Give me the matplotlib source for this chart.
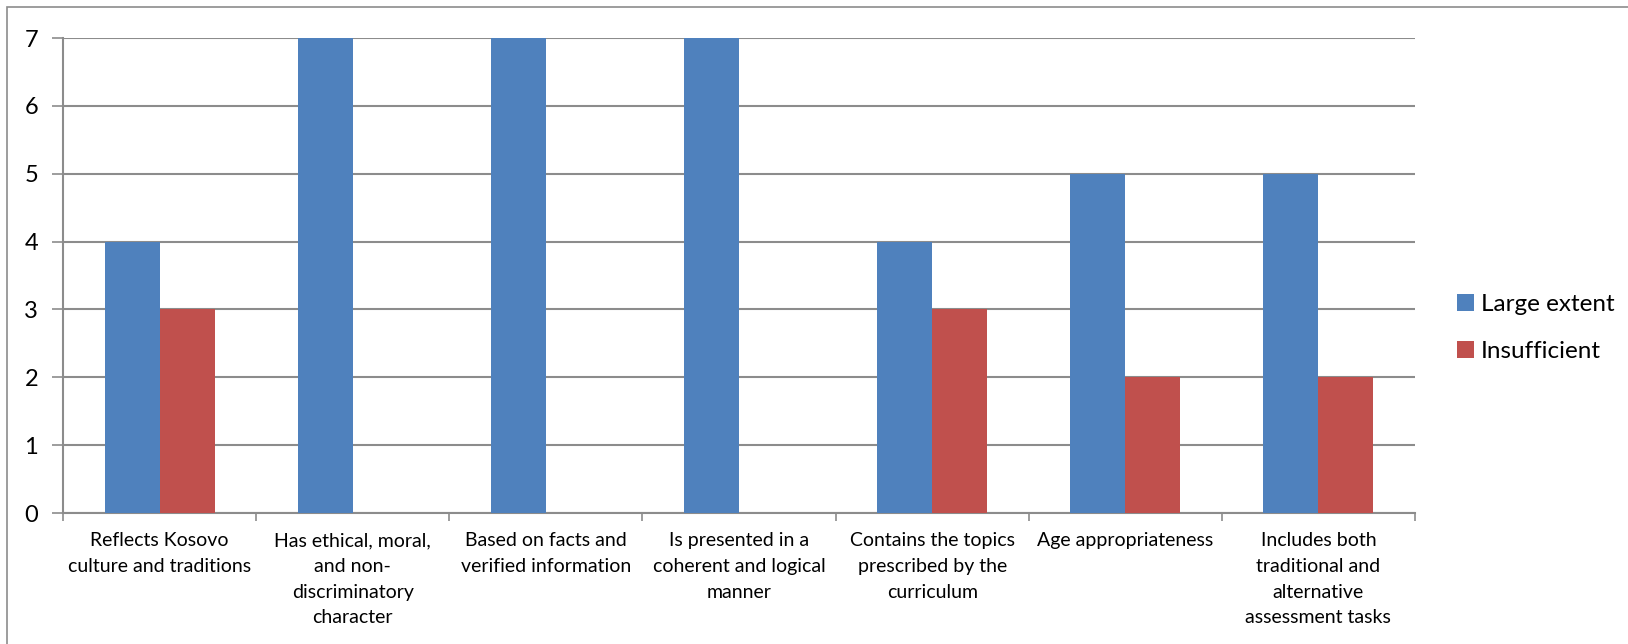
import numpy as np
import matplotlib.pyplot as plt
from matplotlib.patches import Rectangle

# Data
categories = [
    "Reflects Kosovo\nculture and traditions",
    "Has ethical, moral,\nand non-\ndiscriminatory\ncharacter",
    "Based on facts and\nverified information",
    "Is presented in a\ncoherent and logical\nmanner",
    "Contains the topics\nprescribed by the\ncurriculum",
    "Age appropriateness",
    "Includes both\ntraditional and\nalternative\nassessment tasks",
]
large_extent = [4, 7, 7, 7, 4, 5, 5]
insufficient = [3, 0, 0, 0, 3, 2, 2]
y_ticks = [0, 1, 2, 3, 4, 5, 6, 7]

plt.rcParams['font.family'] = ['Lato', 'DejaVu Sans']

fig = plt.figure(figsize=(16.28, 6.44), dpi=100)
ax = fig.add_axes([63 / 1628, 1 - 513 / 644, (1415 - 63) / 1628, (513 - 38) / 644])

# outer chart border (Excel-style frame)
fig.patches.append(Rectangle((7 / 1628, -0.1), 1.2, 1 - 7 / 644 + 0.1,
                             transform=fig.transFigure, fill=False,
                             edgecolor='#8c8c8c', linewidth=1.2))

x = np.arange(len(categories))
w = 0.285
ax.bar(x - w / 2, large_extent, w, color='#4F81BD', label='Large extent', zorder=3)
ax.bar(x + w / 2, insufficient, w, color='#C0504D', label='Insufficient', zorder=3)

ax.set_xlim(-0.5, len(categories) - 0.5)
ax.set_ylim(0, 7)
ax.set_yticks(y_ticks)
ax.tick_params(axis='y', labelsize=17, length=8, width=1.2, color='#8c8c8c', pad=10)
ax.yaxis.grid(True, color='#8c8c8c', linewidth=1.5, zorder=0)
ax.set_axisbelow(True)

# category labels centred, tick marks on boundaries
ax.set_xticks(x)
ax.set_xticklabels(categories, fontsize=14, linespacing=1.62, va='top')
ax.tick_params(axis='x', length=0, pad=14)
ax.set_xticks(np.arange(len(categories) + 1) - 0.5, minor=True)
ax.tick_params(axis='x', which='minor', length=6, width=1.2, color='#8c8c8c')

for s in ['top', 'right']:
    ax.spines[s].set_visible(False)
for s in ['left', 'bottom']:
    ax.spines[s].set_color('#8c8c8c')
    ax.spines[s].set_linewidth(1.5)

fig.legend(loc='center left', bbox_to_anchor=(1435 / 1628, 1 - 328 / 644),
           frameon=False, fontsize=17.5, handlelength=0.7, handleheight=0.7,
           handletextpad=0.3, labelspacing=1.1)

fig.savefig('out.png', dpi=100)
